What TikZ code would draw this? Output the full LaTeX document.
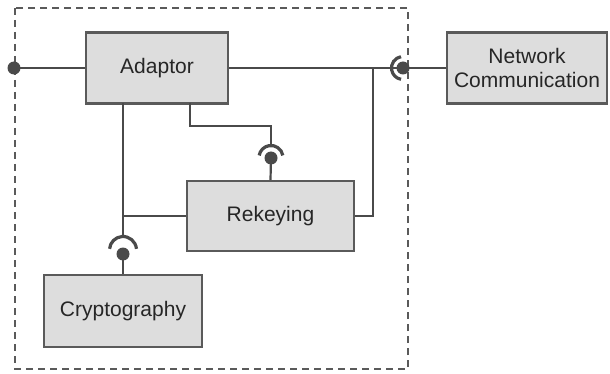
\documentclass[tikz,border=0pt]{standalone}
\usepackage{fontspec}
\setmainfont{Liberation Sans}
\definecolor{boxfill}{HTML}{DDDDDD}
\definecolor{boxline}{HTML}{5A5A5A}
\definecolor{wire}{HTML}{4A4A4A}
\begin{document}
\begin{tikzpicture}[x=1pt,y=1pt,
  comp/.style={draw=boxline,line width=2.4pt,fill=boxfill,inner sep=0pt,align=center,
    font=\fontsize{21}{24.5}\selectfont,text=black!85},
  wireline/.style={draw=wire,line width=2.2pt},
  socket/.style={draw=wire,line width=3.2pt},
  ball/.style={circle,fill=wire,inner sep=0pt,minimum size=13pt},
  frame/.style={draw=boxline,line width=1.6pt,dash pattern=on 7pt off 5pt}]
\useasboundingbox (0,0) rectangle (610,-374);
\fill[white] (0,0) rectangle (610,-374);
% dashed frame
\draw[frame] (15,-8) rectangle (408,-369);
% components
\node[comp,minimum width=142pt,minimum height=71pt] (adaptor) at (157,-68) {Adaptor};
\node[comp,minimum width=160pt,minimum height=71pt] (net) at (527,-68) {Network\\Communication};
\node[comp,minimum width=167pt,minimum height=70pt] (rekey) at (270.5,-216) {Rekeying};
\node[comp,minimum width=158pt,minimum height=72pt] (crypto) at (123,-311) {Cryptography};
% coordinates
\coordinate (leftdot) at (14,-68);
\coordinate (netball) at (403,-68);
\coordinate (netjoin) at (373,-68);
\coordinate (rkjoin) at (373,-216);
\coordinate (a1) at (190,-103);
\coordinate (a2) at (190,-126);
\coordinate (a3) at (271,-126);
\coordinate (rkarc) at (271,-146);
\coordinate (rkball) at (271,-158);
\coordinate (c1) at (123,-103);
\coordinate (c2) at (123,-216);
\coordinate (crarc) at (123,-237);
\coordinate (crball) at (123,-254);
% wires
\draw[wireline] (leftdot) -- (adaptor.west);
\draw[wireline] (adaptor.east) -- (netball);
\draw[wireline] (netball) -- (net.west);
\draw[wireline] (netjoin) -- (rkjoin) -- (rekey.east |- rkjoin);
\draw[wireline] (a1) -- (a2) -- (a3) -- (rkarc);
\draw[wireline] (rkball) -- (rekey.north);
\draw[wireline] (c1) -- (c2) -- (rekey.west |- c2);
\draw[wireline] (c2) -- (crarc);
\draw[wireline] (crball) -- (crypto.north);
% sockets
\draw[socket] ([shift={(10:12pt)}]271,-157.5) arc[start angle=10,end angle=170,radius=12pt];
\draw[socket] ([shift={(5:13.5pt)}]123,-250) arc[start angle=5,end angle=175,radius=13.5pt];
\draw[socket] ([shift={(100:11.5pt)}]netball) arc[start angle=100,end angle=260,radius=11.5pt];
% balls
\node[ball] (b0) at (leftdot) {};
\node[ball] (b1) at (netball) {};
\node[ball] (b2) at (rkball) {};
\node[ball] (b3) at (crball) {};
\end{tikzpicture}
\end{document}
